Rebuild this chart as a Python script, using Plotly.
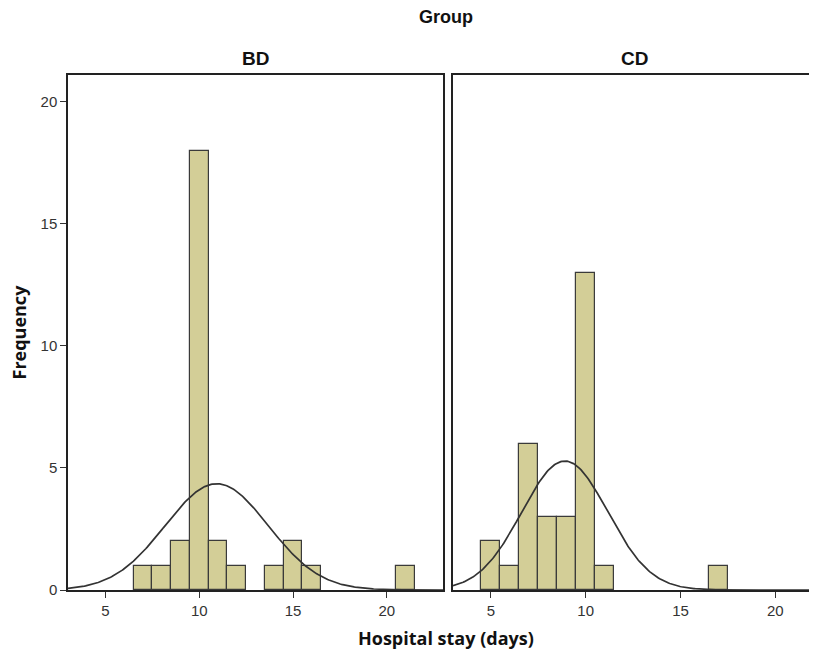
import numpy as np
import plotly.graph_objects as go

# Histogram data (bin centers, bin width 1)
bd_days = [7, 8, 9, 10, 11, 12, 14, 15, 16, 21]
bd_counts = [1, 1, 2, 18, 2, 1, 1, 2, 1, 1]
cd_days = [5, 6, 7, 8, 9, 10, 11, 17]
cd_counts = [2, 1, 6, 3, 3, 13, 1, 1]

# Normal curve parameters (fitted)
bd_mean, bd_sd, bd_n = 10.93, 2.75, 30
cd_mean, cd_sd, cd_n = 8.90, 2.265, 30

x_ticks = [5, 10, 15, 20]
y_ticks = [0, 5, 10, 15, 20]

bar_fill = "#D3CE97"
bar_line = "#3a3a3a"
NARROW = "Liberation Sans Narrow, Arial Narrow, Liberation Sans, Arial, sans-serif"
BOLD = "Open Sans, Arial, sans-serif"

def normal_curve(mean, sd, n, lo=3, hi=23):
    xs = np.linspace(lo, hi, 300)
    ys = n * 1.0 / (sd * np.sqrt(2 * np.pi)) * np.exp(-0.5 * ((xs - mean) / sd) ** 2)
    return xs, ys

fig = go.Figure()
for days, counts, xa, ya in [(bd_days, bd_counts, "x", "y"), (cd_days, cd_counts, "x2", "y2")]:
    fig.add_trace(go.Bar(x=days, y=counts, width=1,
                         marker=dict(color=bar_fill, line=dict(color=bar_line, width=1.2)),
                         xaxis=xa, yaxis=ya, showlegend=False, hoverinfo="x+y"))
for (m, s, n), xa, ya in [((bd_mean, bd_sd, bd_n), "x", "y"), ((cd_mean, cd_sd, cd_n), "x2", "y2")]:
    xs, ys = normal_curve(m, s, n)
    fig.add_trace(go.Scatter(x=xs, y=ys, mode="lines", line=dict(color="#333333", width=1.7),
                             xaxis=xa, yaxis=ya, showlegend=False))

tickfont = dict(family=NARROW, size=15, color="#333333")
common_x = dict(tickvals=x_ticks, ticks="outside", ticklen=6, tickcolor="#333333", tickwidth=1.3,
                showline=True, linecolor="#222222", linewidth=1.5, mirror=True, showgrid=False,
                zeroline=False, tickfont=tickfont, automargin=False)

# The page body has an 8px default margin: compensate so the plot lands where the reference has it.
fig.update_layout(
    width=809, height=645,
    margin=dict(l=60, r=0, t=67, b=63),
    plot_bgcolor="white", paper_bgcolor="white",
    bargap=0,
    xaxis=dict(domain=[0, 0.5007], range=[3, 23], anchor="y", **common_x),
    xaxis2=dict(domain=[0.514, 1], range=[3, 22.2], anchor="y2", **common_x),
    yaxis=dict(domain=[0, 1], range=[0, 21.1], tickvals=y_ticks, ticks="outside", ticklen=6,
               tickcolor="#333333", tickwidth=1.3, showline=True, linecolor="#222222", linewidth=1.5,
               mirror=True, showgrid=False, zeroline=False, tickfont=tickfont, anchor="x", automargin=False),
    yaxis2=dict(domain=[0, 1], range=[0, 21.1], showticklabels=False, ticks="", showline=True,
                linecolor="#222222", linewidth=1.5, mirror=False, showgrid=False, zeroline=False,
                anchor="x2", automargin=False),
    annotations=[
        dict(text="<b>BD</b>", xref="x domain", yref="paper", x=0.5, y=1, yshift=17, yanchor="middle",
             showarrow=False, font=dict(family=NARROW, size=19, color="#111111")),
        dict(text="<b>CD</b>", xref="x2 domain", yref="paper", x=0.5, y=1, yshift=17, yanchor="middle",
             showarrow=False, font=dict(family=NARROW, size=19, color="#111111")),
        dict(text="<b>Group</b>", xref="paper", yref="paper", x=0.505, y=1, yshift=58, yanchor="middle",
             showarrow=False, font=dict(family=NARROW, size=18, color="#111111")),
        dict(text="<b>Frequency</b>", xref="paper", yref="paper", x=0, xshift=-50, xanchor="center",
             y=0.5, yanchor="middle", textangle=-90, showarrow=False,
             font=dict(family=BOLD, size=18, color="#111111")),
        dict(text="<b>Hospital stay (days)</b>", xref="paper", yref="paper", x=0.505, y=0, yshift=-48,
             yanchor="middle", showarrow=False, font=dict(family=BOLD, size=18, color="#111111")),
    ],
)

fig.write_html("out.html")
